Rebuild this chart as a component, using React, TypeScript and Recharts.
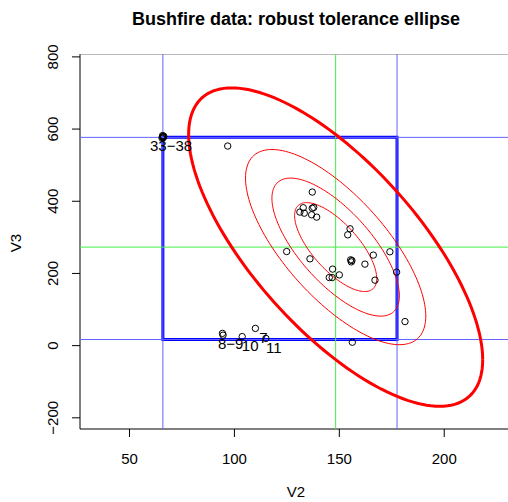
import React from 'react';
import {
  ScatterChart,
  Scatter,
  XAxis,
  YAxis,
  ReferenceArea
} from 'recharts';

// Bushfire data, columns V2 and V3
const v2 = [
  137.1, 132.8, 131.2, 133.3, 137.1, 137.8, // 1-6
  110.0, 94.3, 94.6, 103.7, 115.0, // 7-11 (labelled)
  136.8, 139.2, 155.1, 154.0, 166.2, 174.1, 155.4, 156.0, 155.7, 162.2,
  167.0, 177.3, 124.9, 136.0, 146.8, 150.0, 145.2, 146.6, 181.3, 156.2,
  96.8, // 12-32
  65.5, 66.0, 66.3, 65.8, 66.1, 65.7 // 33-38
];
const v3 = [
  425.5, 382.0, 370.0, 367.0, 380.6, 383.0,
  47.7, 34.0, 29.0, 25.0, 20.0,
  362.5, 356.0, 323.7, 307.0, 250.8, 260.0, 237.7, 235.7, 232.0, 225.8,
  181.4, 203.6, 260.7, 240.5, 212.0, 196.0, 188.6, 188.6, 66.6, 9.4,
  553.0,
  575.0, 578.0, 580.0, 582.0, 576.0, 579.0
];

// labelled outliers
const labelText = ['33\u221238', '8\u22129', '10', '7', '11'];
const labelV2 = [66.0, 94.4, 103.7, 110.0, 115.0];
const labelV3 = [579.0, 32.0, 25.0, 47.7, 20.0];

// robust center, scales and correlation for the tolerance ellipses
const center = { x: 148.25, y: 273 };
const sdV2 = 25.8;
const sdV3 = 162.4;
const rho = -0.707;
const levels = [0.25, 0.5, 0.75]; // thin contours
const tolLevel = 0.975; // thick tolerance ellipse

// box from the coordinate-wise limits
const boxV2 = [65.9, 177.5];
const boxV3 = [17, 577];

const xDomain = [26.4, 232.3];
const yDomain = [-231, 808];
const xTicks = [50, 100, 150, 200];
const yTicks = [-200, 0, 200, 400, 600, 800];

const points = v2.map((x, i) => ({ x, y: v3[i] }));
const labels = labelText.map((label, i) => ({ x: labelV2[i], y: labelV3[i], label }));

const vLine = (x: number) => [{ x, y: yDomain[0] }, { x, y: yDomain[1] }];
const hLine = (y: number) => [{ x: xDomain[0], y }, { x: xDomain[1], y }];

const ellipse = (p: number) => {
  const r = Math.sqrt(-2 * Math.log(1 - p));
  const out = [];
  for (let i = 0; i <= 160; i++) {
    const t = (2 * Math.PI * i) / 160;
    out.push({
      x: center.x + r * sdV2 * Math.cos(t),
      y: center.y + r * sdV3 * (rho * Math.cos(t) + Math.sqrt(1 - rho * rho) * Math.sin(t))
    });
  }
  return out;
};

const FONT = '"Liberation Sans", Arial, Helvetica, sans-serif';
const minus = (v: number) => (v < 0 ? '\u2212' + Math.abs(v) : String(v));

const XTick = (props: any) => (
  <text x={props.x} y={props.y + 19} textAnchor="middle" dominantBaseline="central"
    fontSize={15} fontFamily={FONT} fill="#000">
    {minus(props.payload.value)}
  </text>
);

const YTick = (props: any) => {
  const x = props.x - 17;
  return (
    <text x={x} y={props.y} transform={`rotate(-90, ${x}, ${props.y})`} textAnchor="middle"
      dominantBaseline="central" fontSize={15} fontFamily={FONT} fill="#000">
      {minus(props.payload.value)}
    </text>
  );
};

const Circle = (props: any) => (
  <circle cx={props.cx} cy={props.cy} r={3.2} fill="none" stroke="#000" strokeWidth={1} />
);

const Label = (props: any) => (
  <text x={props.cx + 8} y={props.cy + 9} textAnchor="middle" dominantBaseline="central"
    fontSize={15} fontFamily={FONT} fill="#000">
    {props.payload.label}
  </text>
);

const Nothing = () => <g />;

const thinBlue = '#6464ff';
const green = '#44ee44';

export default function App() {
  return (
    <div style={{ position: 'fixed', left: 0, top: 0, width: 508, height: 502, overflow: 'hidden', background: '#fff', fontFamily: FONT }}>
      <div style={{ position: 'absolute', left: 296, top: 19, transform: 'translate(-50%, -50%)', fontSize: 18, fontWeight: 'bold', whiteSpace: 'nowrap', lineHeight: '20px' }}>
        Bushfire data: robust tolerance ellipse
      </div>
      <div style={{ position: 'absolute', left: 296, top: 492, transform: 'translate(-50%, -50%)', fontSize: 15, lineHeight: '18px' }}>
        V2
      </div>
      <div style={{ position: 'absolute', left: 16, top: 243, transform: 'translate(-50%, -50%) rotate(-90deg)', fontSize: 15, lineHeight: '18px' }}>
        V3
      </div>
      <ScatterChart width={512} height={502} margin={{ top: 54, right: 0, bottom: 43, left: 0 }}>
        <XAxis type="number" dataKey="x" domain={xDomain} ticks={xTicks} allowDataOverflow
          height={30} tickSize={8} tick={<XTick />} axisLine={{ stroke: '#000' }} tickLine={{ stroke: '#000' }} />
        <YAxis type="number" dataKey="y" domain={yDomain} ticks={yTicks} allowDataOverflow
          width={80} tickSize={8} tick={<YTick />} axisLine={{ stroke: '#000' }} tickLine={{ stroke: '#000' }} />
        <Scatter data={hLine(yDomain[1])} line={{ stroke: '#777', strokeWidth: 1 }} shape={Nothing} isAnimationActive={false} />
        {boxV2.map((x) => (
          <Scatter key={'v' + x} data={vLine(x)} line={{ stroke: thinBlue, strokeWidth: 1 }} shape={Nothing} isAnimationActive={false} />
        ))}
        {boxV3.map((y) => (
          <Scatter key={'h' + y} data={hLine(y)} line={{ stroke: thinBlue, strokeWidth: 1 }} shape={Nothing} isAnimationActive={false} />
        ))}
        <Scatter data={vLine(center.x)} line={{ stroke: green, strokeWidth: 1 }} shape={Nothing} isAnimationActive={false} />
        <Scatter data={hLine(center.y)} line={{ stroke: green, strokeWidth: 1 }} shape={Nothing} isAnimationActive={false} />
        <ReferenceArea x1={boxV2[0]} x2={boxV2[1]} y1={boxV3[0]} y2={boxV3[1]}
          fill="none" fillOpacity={0} stroke="#0000ff" strokeWidth={3} strokeOpacity={1} />
        {levels.map((p) => (
          <Scatter key={p} data={ellipse(p)} line={{ stroke: '#ff0000', strokeWidth: 1 }}
            shape={Nothing} isAnimationActive={false} />
        ))}
        <Scatter data={ellipse(tolLevel)} line={{ stroke: '#ff0000', strokeWidth: 3 }}
          shape={Nothing} isAnimationActive={false} />
        <Scatter data={points} shape={Circle} isAnimationActive={false} />
        <Scatter data={labels} shape={Label} isAnimationActive={false} />
      </ScatterChart>
    </div>
  );
}
